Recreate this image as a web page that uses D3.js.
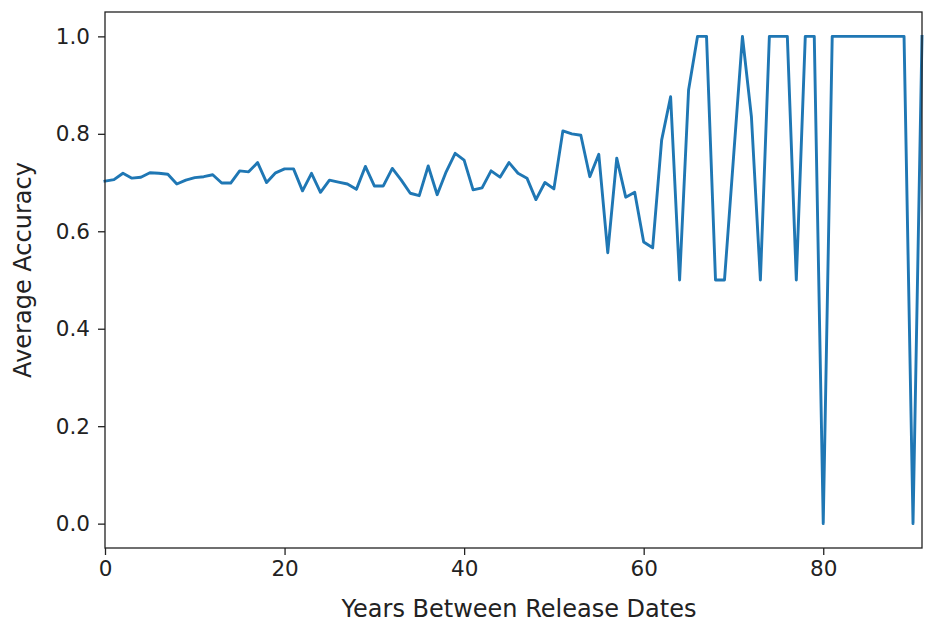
<!DOCTYPE html>
<html>
<head>
<meta charset="utf-8">
<script src="https://cdn.jsdelivr.net/npm/d3@7"></script>
<style>
  body { margin: 0; background: #fff; }
  text { font-family: "DejaVu Sans", sans-serif; fill: #222; }
</style>
</head>
<body>
<div id="root"></div>
<script>
// average accuracy by years between release dates (0..91)
let years = d3.range(0, 92)
let accuracy = [
  0.703, 0.706, 0.719, 0.709, 0.711, 0.720, 0.719, 0.717, 0.697, 0.705,
  0.710, 0.712, 0.716, 0.699, 0.699, 0.724, 0.722, 0.741, 0.700, 0.720,
  0.728, 0.728, 0.683, 0.719, 0.680, 0.705, 0.701, 0.697, 0.686, 0.733,
  0.693, 0.693, 0.729, 0.705, 0.678, 0.673, 0.734, 0.675, 0.722, 0.760,
  0.746, 0.685, 0.689, 0.724, 0.711, 0.741, 0.719, 0.709, 0.665, 0.700,
  0.687, 0.806, 0.800, 0.797, 0.712, 0.758, 0.556, 0.750, 0.670, 0.680,
  0.578, 0.566, 0.787, 0.876, 0.500, 0.890, 1.000, 1.000, 0.500, 0.500,
  0.750, 1.000, 0.835, 0.500, 1.000, 1.000, 1.000, 0.500, 1.000, 1.000,
  0.000, 1.000, 1.000, 1.000, 1.000, 1.000, 1.000, 1.000, 1.000, 1.000,
  0.000, 1.000
]
let xTicks = [0, 20, 40, 60, 80]
let yTicks = [0.0, 0.2, 0.4, 0.6, 0.8, 1.0]

let W = 925, H = 624
let m = {top: 12, right: 3, bottom: 76, left: 105}

let svg = d3.select('#root').append('svg')
  .attr('width', W).attr('height', H)

let x = d3.scaleLinear().domain([0, 91]).range([m.left, W - m.right])
let y = d3.scaleLinear().domain([-0.05, 1.05]).range([H - m.bottom, m.top])

let line = d3.line()
  .x((d, i) => x(years[i]))
  .y(d => y(d))

svg.append('path')
  .datum(accuracy)
  .attr('fill', 'none')
  .attr('stroke', '#1f77b4')
  .attr('stroke-width', 2.9)
  .attr('stroke-linejoin', 'round')
  .attr('stroke-linecap', 'square')
  .attr('d', line)

let xAxis = svg.append('g')
  .attr('transform', `translate(0,${H - m.bottom})`)
  .call(d3.axisBottom(x).tickValues(xTicks).tickFormat(d3.format('d')).tickSize(7).tickPadding(6))
let yAxis = svg.append('g')
  .attr('transform', `translate(${m.left},0)`)
  .call(d3.axisLeft(y).tickValues(yTicks).tickFormat(d3.format('.1f')).tickSize(7).tickPadding(8))

for (let g of [xAxis, yAxis]) {
  g.select('.domain').remove()
  g.selectAll('.tick line').attr('stroke', '#222').attr('stroke-width', 1.3)
  g.selectAll('.tick text').attr('font-size', 21.5).attr('fill', '#222')
    .style('font-family', '"DejaVu Sans", sans-serif')
}

// frame
svg.append('rect')
  .attr('x', m.left).attr('y', m.top)
  .attr('width', W - m.right - m.left).attr('height', H - m.bottom - m.top)
  .attr('fill', 'none').attr('stroke', '#222').attr('stroke-width', 1.3)

svg.append('text')
  .attr('x', 519).attr('y', 617)
  .attr('text-anchor', 'middle').attr('font-size', 24)
  .text('Years Between Release Dates')

svg.append('text')
  .attr('transform', `translate(31,270) rotate(-90)`)
  .attr('text-anchor', 'middle').attr('font-size', 24)
  .text('Average Accuracy')
</script>
</body>
</html>
